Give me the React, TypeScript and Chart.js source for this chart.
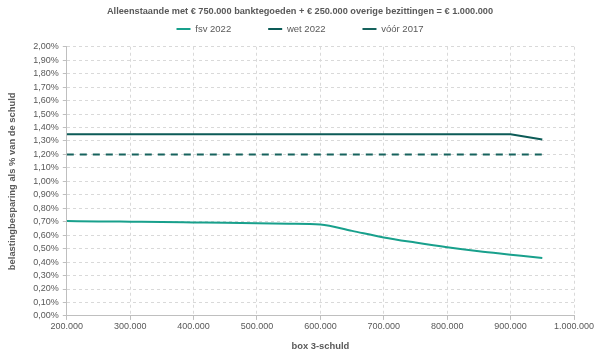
import React, { useEffect, useRef } from "react";
import { Chart, registerables } from "chart.js";

Chart.register(...registerables);

const TITLE = "Alleenstaande met € 750.000 banktegoeden + € 250.000 overige bezittingen = € 1.000.000";
const X_TITLE = "box 3-schuld";
const Y_TITLE = "belastingbesparing als % van de schuld";

const debtFsv = [200000, 250000, 300000, 350000, 400000, 450000, 500000, 550000, 600000, 650000, 700000, 750000, 800000, 850000, 900000, 950000];
const fsv2022 = [0.705, 0.702, 0.7, 0.698, 0.695, 0.692, 0.688, 0.685, 0.68, 0.632, 0.583, 0.545, 0.51, 0.48, 0.455, 0.43];

const debtWet = [200000, 900000, 950000];
const wet2022 = [1.35, 1.35, 1.31];

const debtVoor = [200000, 950000];
const voor2017 = [1.2, 1.2];

const seriesNames = ["fsv 2022", "wet 2022", "vóór 2017"];

const fmtThousands = (v: number) => {
  const s = Math.round(v).toString();
  return s.replace(/\B(?=(\d{3})+(?!\d))/g, ".");
};

const toPoints = (xs: number[], ys: number[]) => xs.map((x, i) => ({ x, y: ys[i] }));

const legendGap = {
  id: "legendGap",
  beforeUpdate(chart: any) {
    const lg: any = chart.legend;
    if (lg && !lg._gapPatched) {
      const orig = lg.fit.bind(lg);
      lg.fit = function () {
        orig();
        this.height += 3;
      };
      lg._gapPatched = true;
    }
  },
  afterLayout(chart: any) {
    const lg: any = chart.legend;
    if (lg) {
      lg.left = 0;
      lg.right = chart.width;
      lg.width = chart.width;
    }
  },
};

export default function App() {
  const ref = useRef<HTMLCanvasElement | null>(null);
  useEffect(() => {
    if (!ref.current) return;
    const gray = "#595959";
    const font = "'Liberation Sans', Arial, sans-serif";
    const chart = new Chart(ref.current, {
      type: "line",
      data: {
        datasets: [
          {
            label: seriesNames[0],
            data: toPoints(debtFsv, fsv2022),
            borderColor: "#18a08c",
            backgroundColor: "#18a08c",
            borderWidth: 2,
            pointRadius: 0,
            cubicInterpolationMode: "monotone",
          },
          {
            label: seriesNames[1],
            data: toPoints(debtWet, wet2022),
            borderColor: "#0c5b57",
            backgroundColor: "#0c5b57",
            borderWidth: 2,
            pointRadius: 0,
          },
          {
            label: seriesNames[2],
            data: toPoints(debtVoor, voor2017),
            borderColor: "#16625d",
            backgroundColor: "#16625d",
            borderWidth: 2,
            borderDash: [7, 6],
            pointRadius: 0,
          },
        ],
      },
      plugins: [legendGap],
      options: {
        animation: false,
        responsive: false,
        maintainAspectRatio: false,
        layout: { padding: { left: 7, right: 26, top: 2, bottom: 5 } },
        plugins: {
          title: { display: false },
          legend: {
            position: "top",
            title: {
              display: true,
              text: TITLE,
              color: gray,
              font: { family: font, size: 9.2, weight: "bold" },
              padding: { top: 4.5, bottom: -30.3 },
            },
            labels: {
              color: gray,
              font: { family: font, size: 9.5 },
              usePointStyle: true,
              pointStyle: "line",
              pointStyleWidth: 14,
              boxWidth: 14,
              boxHeight: 6,
              padding: 37,
            },
          },
          tooltip: { enabled: false },
        },
        scales: {
          x: {
            type: "linear",
            min: 200000,
            max: 1000000,
            ticks: {
              stepSize: 100000,
              color: gray,
              font: { family: font, size: 9 },
              callback: (v: any) => fmtThousands(Number(v)),
              maxRotation: 0,
              autoSkip: false,
              padding: 1,
            },
            grid: {
              color: "#d9d9d9",
              tickColor: "#bfbfbf",
              tickLength: 4,
              tickBorderDash: [],
            },
            border: { display: true, color: "#bfbfbf", dash: [3, 3] },
            title: {
              display: true,
              text: X_TITLE,
              color: gray,
              font: { family: font, size: 9.4, weight: "bold" },
              padding: { top: 8, bottom: 0 },
            },
          },
          y: {
            min: 0,
            max: 2,
            ticks: {
              stepSize: 0.1,
              autoSkip: false,
              color: gray,
              font: { family: font, size: 9 },
              callback: (v: any) => Number(v).toFixed(2).replace(".", ",") + "%",
              padding: 4,
            },
            grid: {
              color: "#d9d9d9",
              tickColor: "#bfbfbf",
              tickLength: 4,
              tickBorderDash: [],
            },
            border: { display: true, color: "#bfbfbf", dash: [3, 3] },
            title: {
              display: true,
              text: Y_TITLE,
              color: gray,
              font: { family: font, size: 9.4, weight: "bold" },
              padding: { top: 0, bottom: 11 },
            },
          },
        },
      } as any,
    });
    return () => chart.destroy();
  }, []);
  return (
    <div style={{ position: "fixed", left: 0, top: 0, width: 600, height: 357, background: "#fff" }}>
      <canvas ref={ref} width={600} height={357} style={{ width: 600, height: 357 }} />
    </div>
  );
}
